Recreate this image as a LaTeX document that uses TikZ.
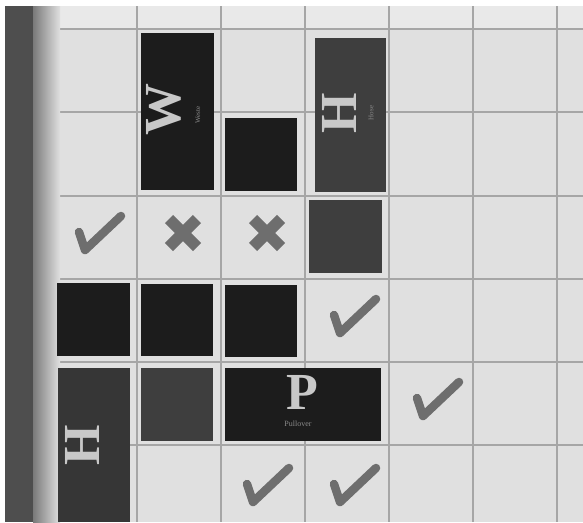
\documentclass[tikz,border=0pt]{standalone}
\usepackage{fontspec}
\setmainfont{Liberation Serif}
\begin{document}
\begin{tikzpicture}[x=1pt,y=-1pt,
  paper/.style={fill=paperc},
  gridline/.style={draw=gridc,line width=1.4pt},
  blacktile/.style={fill=tileblack},
  graytile/.style={fill=tilegray},
  markink/.style={draw=inkc,line cap=round,line join=round},
  bigletter/.style={text=letterc,font=\fontsize{52}{52}\selectfont\bfseries,inner sep=0pt},
  smallword/.style={text=smallc,font=\fontsize{7}{7}\selectfont,inner sep=0pt},
  chk/.pic={\draw[markink,line width=8.5pt] (-16,-5) -- (-10,13) -- (26,-21);},
  crs/.pic={\draw[draw=inkc,line width=11.5pt] (-14,-14) -- (14,14) (-14,14) -- (14,-14);}
]
\definecolor{paperc}{HTML}{E0E0E0}
\definecolor{gridc}{HTML}{A6A6A6}
\definecolor{tileblack}{HTML}{1C1C1C}
\definecolor{tilegray}{HTML}{3E3E3E}
\definecolor{tilegraydk}{HTML}{363636}
\definecolor{inkc}{HTML}{6E6E6E}
\definecolor{letterc}{HTML}{C8C8C8}
\definecolor{smallc}{HTML}{8A8A8A}
\definecolor{stripc}{HTML}{4E4E4E}
\useasboundingbox (0,0) rectangle (583,522);
\fill[white] (0,0) rectangle (583,522);
% paper
\fill[paperc] (5,6) rectangle (583,522);
\fill[white!30!paperc] (33,6) rectangle (583,28);
% grid
\foreach \gx in {137,221,305,389,473,557} \draw[gridline] (\gx,6) -- (\gx,522);
\foreach \gy in {29,112,196,279,362,445} \draw[gridline] (40,\gy) -- (583,\gy);
% left binding strip
\shade[left color=stripc!70!paperc,right color=paperc] (33,6) rectangle (60,522);
\fill[stripc] (5,6) rectangle (33,522);
% tiles
\fill[blacktile] (141,33) rectangle (214,190);
\node[bigletter,rotate=90] (W) at (164,109) {W};
\node[smallword,rotate=90] (Wt) at (198,115) {Weste};
\fill[blacktile] (225,118) rectangle (297,191);
\fill[graytile] (315,38) rectangle (386,192);
\node[bigletter,rotate=90] (H1) at (339,113) {H};
\node[smallword,rotate=90] (H1t) at (371,113) {Hose};
\fill[graytile] (309,200) rectangle (382,273);
\fill[blacktile] (57,283) rectangle (130,356);
\fill[blacktile] (141,284) rectangle (213,356);
\fill[blacktile] (225,285) rectangle (297,357);
\fill[tilegraydk] (58,368) rectangle (130,522);
\node[bigletter,rotate=90] (H2) at (82,445) {H};
\fill[graytile] (141,368) rectangle (213,441);
\fill[blacktile] (225,368) rectangle (381,441);
\node[bigletter] (P) at (302,392) {P};
\node[smallword,font=\fontsize{8}{8}\selectfont] (Pt) at (298,424) {Pullover};
% marks
\pic at (95,237) {chk};
\pic at (183,233) {crs};
\pic at (267,233) {crs};
\pic at (350,320) {chk};
\pic at (433,403) {chk};
\pic at (263,489) {chk};
\pic at (350,489) {chk};
\end{tikzpicture}
\end{document}
